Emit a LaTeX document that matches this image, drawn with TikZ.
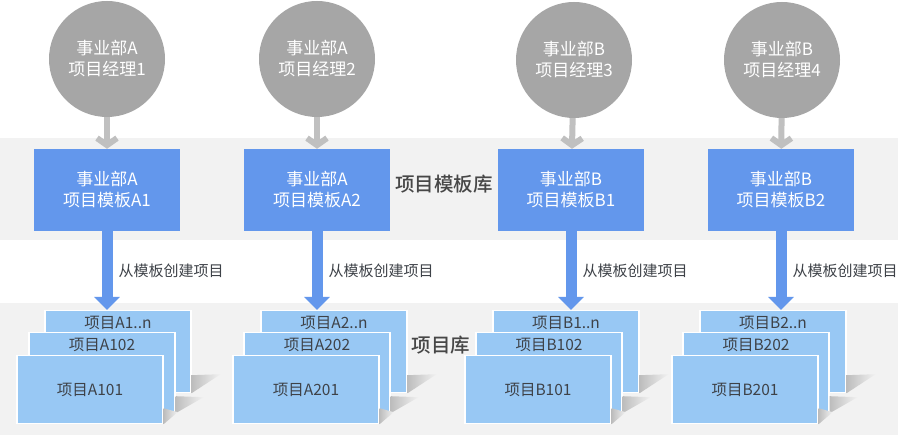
\documentclass[tikz,border=0pt]{standalone}
\usepackage{fontspec}
\setmainfont{Noto Sans CJK SC}
\newfontfamily\libfont{Noto Sans CJK SC Medium}
\usepackage{tikz}
\definecolor{bandgray}{RGB}{242,242,242}
\definecolor{mgrgray}{RGB}{166,166,166}
\definecolor{arrowgray}{RGB}{192,192,192}
\definecolor{tplblue}{RGB}{99,151,236}
\definecolor{projblue}{RGB}{152,200,244}
\definecolor{textgray}{RGB}{62,66,72}
\usetikzlibrary{arrows.meta}
\usetikzlibrary{shapes}
\usetikzlibrary{positioning}

\begin{document}
\begin{tikzpicture}[x=1pt, y=-1pt,
    manager/.style={circle, fill=mgrgray, minimum size=116pt, inner sep=0pt, text=white,
        align=center, font=\fontsize{17}{21}\selectfont},
    template/.style={rectangle, fill=tplblue, minimum width=146pt, minimum height=82pt,
        inner sep=0pt, text=white, align=center, font=\fontsize{17}{21}\selectfont},
    project/.style={rectangle, fill=projblue, draw=white, line width=1.2pt, minimum width=146pt,
        inner sep=0pt, anchor=north, text=textgray, font=\fontsize{15.5}{18}\selectfont},
    frontcard/.style={project, minimum height=68pt},
    midcard/.style={project, text height=18pt, text depth=62pt},
    backcard/.style={project, text height=18pt, text depth=64pt},
    assign/.style={draw=arrowgray, line width=6pt, -{Straight Barb[length=7pt,width=20pt]}},
    create/.style={draw=tplblue, line width=11pt, -{Triangle[length=13pt,width=25pt]}},
    createlabel/.style={anchor=west, xshift=6pt, text=textgray, inner sep=0pt,
        font=\fontsize{15}{18}\selectfont},
    liblabel/.style={text=black!72, font=\libfont\fontsize{19.5}{22}\selectfont},
    cardshadow/.style={left color=black!26, right color=bandgray, draw=none}
]
        \useasboundingbox (0,0) rectangle (898,435);
        \fill[white] (0,0) rectangle (898,435);
        \fill[bandgray] (0,138) rectangle (898,240);
        \fill[bandgray] (0,303) rectangle (898,435);

        % managers
        \node[manager] (m1) at (107,59) {事业部A\\项目经理1};
        \node[manager] (m2) at (317,59) {事业部A\\项目经理2};
        \node[manager] (m3) at (574,60) {事业部B\\项目经理3};
        \node[manager] (m4) at (782,60) {事业部B\\项目经理4};

        % templates
        \node[template] (ta1) at (107,190) {事业部A\\项目模板A1};
        \node[template] (ta2) at (317,190) {事业部A\\项目模板A2};
        \node[template] (tb1) at (571,190) {事业部B\\项目模板B1};
        \node[template] (tb2) at (781,190) {事业部B\\项目模板B2};
        \node[liblabel] (tpllib) at (444,184) {项目模板库};

        % projects
        \node[backcard] (a1n) at (118,310) {项目A1..n};
        \node[midcard] (a102) at (102,332) {项目A102};
        \node[frontcard] (a101) at (90,355) {项目A101};
        \node[backcard] (a2n) at (334,310) {项目A2..n};
        \node[midcard] (a202) at (317,332) {项目A202};
        \node[frontcard] (a201) at (306,355) {项目A201};
        \node[backcard] (b1n) at (566,310) {项目B1..n};
        \node[midcard] (b102) at (549,332) {项目B102};
        \node[frontcard] (b101) at (538,355) {项目B101};
        \node[backcard] (b2n) at (773,310) {项目B2..n};
        \node[midcard] (b202) at (756,332) {项目B202};
        \node[frontcard] (b201) at (745,355) {项目B201};
        \node[liblabel] (projlib) at (441,345) {项目库};

        % shadows
        \shade[cardshadow] (a1n.south east) -- ++(29,-19) -- ++(-29,1) -- cycle;
        \shade[cardshadow] (a102.south east) -- ++(28,-16) -- ++(-28,-1) -- cycle;
        \shade[cardshadow] (a101.south east) -- ++(14,-12) -- ++(-14,-4) -- cycle;
        \shade[cardshadow] (a2n.south east) -- ++(29,-19) -- ++(-29,1) -- cycle;
        \shade[cardshadow] (a202.south east) -- ++(28,-16) -- ++(-28,-1) -- cycle;
        \shade[cardshadow] (a201.south east) -- ++(14,-12) -- ++(-14,-4) -- cycle;
        \shade[cardshadow] (b1n.south east) -- ++(29,-19) -- ++(-29,1) -- cycle;
        \shade[cardshadow] (b102.south east) -- ++(28,-16) -- ++(-28,-1) -- cycle;
        \shade[cardshadow] (b101.south east) -- ++(14,-12) -- ++(-14,-4) -- cycle;
        \shade[cardshadow] (b2n.south east) -- ++(29,-19) -- ++(-29,1) -- cycle;
        \shade[cardshadow] (b202.south east) -- ++(28,-16) -- ++(-28,-1) -- cycle;
        \shade[cardshadow] (b201.south east) -- ++(14,-12) -- ++(-14,-4) -- cycle;

        % arrows
        \draw[assign] (m1) -- (ta1);
        \draw[assign] (m2) -- (ta2);
        \draw[assign] (m3) -- (tb1);
        \draw[assign] (m4) -- (tb2);
        \draw[create] (ta1) -- (ta1.south |- a1n.north) node[createlabel, midway] {从模板创建项目};
        \draw[create] (ta2) -- (ta2.south |- a2n.north) node[createlabel, midway] {从模板创建项目};
        \draw[create] (tb1) -- (tb1.south |- b1n.north) node[createlabel, midway] {从模板创建项目};
        \draw[create] (tb2) -- (tb2.south |- b2n.north) node[createlabel, midway] {从模板创建项目};
    \end{tikzpicture}
\end{document}
